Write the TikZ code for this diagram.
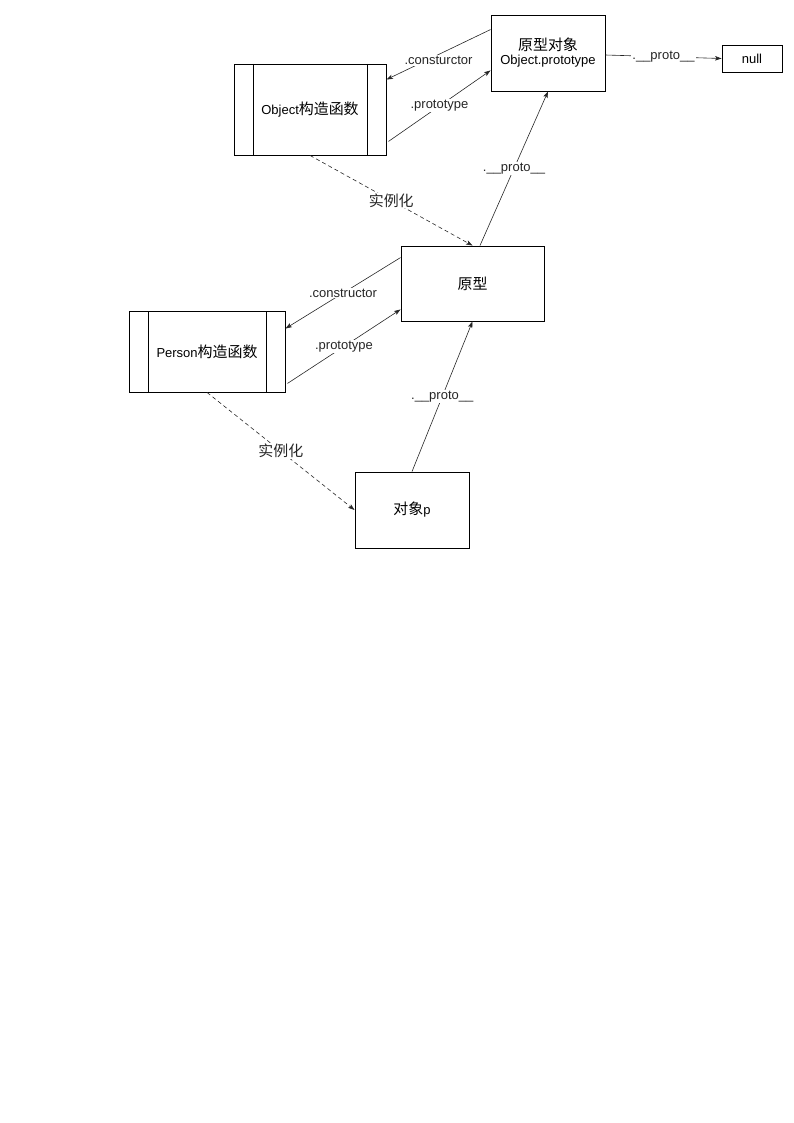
\documentclass[tikz,border=0pt]{standalone}
\usepackage{fontspec}
\setmainfont{Liberation Sans}
\newfontfamily\cjk[Scale=1.15]{Noto Sans CJK SC}
\usetikzlibrary{arrows,arrows.meta}
\usetikzlibrary{shapes,positioning,calc}

\begin{document}
\begin{tikzpicture}[x=1pt, y=-1pt, >={Stealth[length=6.5pt, width=4.5pt, inset=1.5pt]},
  every node/.style={font=\fontsize{13}{15}\selectfont},
  box/.style={draw, line width=0.9pt, align=center, inner sep=0pt},
  fnbox/.style={box, path picture={
      \draw[line width=0.9pt] ([xshift=19pt]path picture bounding box.north west) -- ([xshift=19pt]path picture bounding box.south west);
      \draw[line width=0.9pt] ([xshift=-19pt]path picture bounding box.north east) -- ([xshift=-19pt]path picture bounding box.south east);}},
  link/.style={->, line width=0.6pt, black!85},
  inst/.style={link, dash pattern=on 4pt off 3pt},
  lbl/.style={fill=white, inner sep=1pt}]
  \useasboundingbox (0,0) rectangle (794,1123);

  % boxes
  \node[fnbox, minimum width=152pt, minimum height=91pt] (objfn) at (310,109.5) {Object{\cjk 构造函数}};
  \node[box, minimum width=114pt, minimum height=76pt] (objproto) at (548,53) {{\cjk 原型对象}\\[-1pt]Object.prototype};
  \node[box, minimum width=60pt, minimum height=27pt] (null) at (752,58.5) {null};
  \node[box, minimum width=143pt, minimum height=75pt] (proto) at (472.5,283.5) {\cjk 原型};
  \node[fnbox, minimum width=156pt, minimum height=81pt] (personfn) at (207,351.5) {Person{\cjk 构造函数}};
  \node[box, minimum width=114pt, minimum height=76pt] (objp) at (412,510) {{\cjk 对象}p};

  % links
  \draw[link] ($(objproto.north west)+(0,15)$) -- node[lbl, yshift=-6pt] {.consturctor} ($(objfn.north east)+(0,16)$);
  \draw[link] ($(objfn.south east)+(2,-14)$) -- node[lbl] {.prototype} ($(objproto.south west)+(0,-21)$);
  \draw[link] ($(objproto.east)+(0,2)$) -- node[lbl] {.\_\_proto\_\_} (null.west);
  \draw[inst] (objfn.south) -- node[lbl] {\cjk 实例化} (proto.north);
  \draw[link] ($(proto.north)+(7.5,0)$) -- node[lbl] {.\_\_proto\_\_} (objproto.south);
  \draw[link] ($(proto.north west)+(0,12)$) -- node[lbl] {.constructor} ($(personfn.north east)+(0,18)$);
  \draw[link] ($(personfn.south east)+(2,-9)$) -- node[lbl] {.prototype} ($(proto.south west)+(0,-12)$);
  \draw[link] (objp.north) -- node[lbl] {.\_\_proto\_\_} (proto.south);
  \draw[inst] (personfn.south) -- node[lbl] {\cjk 实例化} (objp.west);
\end{tikzpicture}
\end{document}
